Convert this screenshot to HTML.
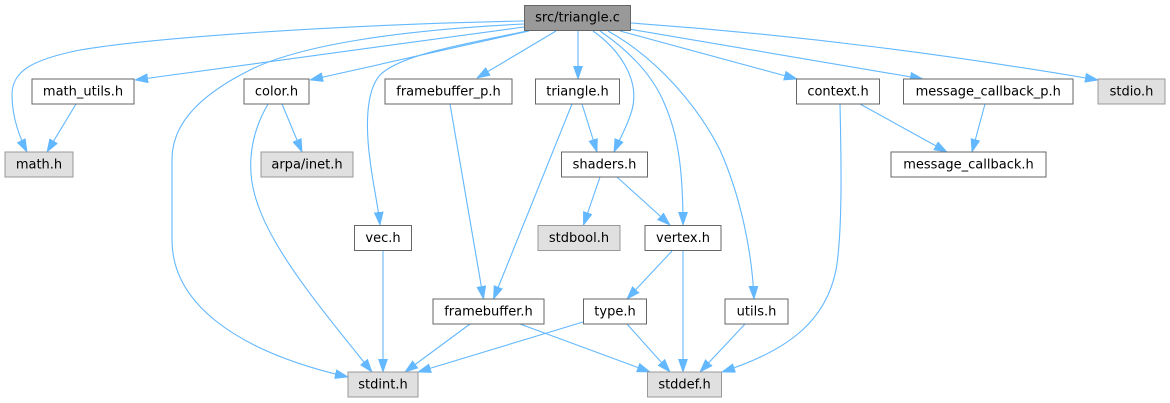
<!DOCTYPE html>
<html><head><meta charset="utf-8"><style>
html,body{margin:0;padding:0;background:#fff;}
svg{display:block;}
text{font-family:"DejaVu Sans","Liberation Sans",sans-serif;font-size:13px;fill:#000;text-anchor:middle;}
.e{fill:none;stroke:#63b8ff;stroke-width:1.1;marker-end:url(#a);}
.w{fill:#fff;stroke:#666;stroke-width:1;}
.g{fill:#e0e0e0;stroke:#999;stroke-width:1;}
.m{fill:#999;stroke:#666;stroke-width:1;}
</style></head><body>
<svg width="1170" height="403" viewBox="0 0 1170 403" xmlns="http://www.w3.org/2000/svg">
<defs>
<marker id="a" markerUnits="userSpaceOnUse" markerWidth="13" markerHeight="10" refX="13" refY="5" orient="auto" viewBox="0 0 13 10">
<path d="M0,0.5 L13,5 L0,9.5 z" fill="#63b8ff" stroke="#63b8ff" stroke-width="0.8"/>
</marker>
</defs>
<!-- edges -->
<path class="e" d="M524,21 C 330,25 150,38 80,50 C 30,60 12,72 12,95 C 12,118 20,138 27,152"/>
<path class="e" d="M524,27 L135,80"/>
<path class="e" d="M524,24 C 400,30 300,45 250,70 C 190,100 172,130 172,160 L172,240 C 172,300 230,350 348,377"/>
<path class="e" d="M529,31 L310,80"/>
<path class="e" d="M527,31 C 460,45 400,55 380,75 C 365,92 366,130 370,160 C 373,185 378,205 380,225"/>
<path class="e" d="M556,31 L477,78"/>
<path class="e" d="M578,31 L578,79"/>
<path class="e" d="M593,31 C 620,50 640,80 632,110 C 628,125 620,138 614,152"/>
<path class="e" d="M600,31 C 635,55 655,80 665,105 C 678,135 683,170 683,225"/>
<path class="e" d="M608,31 C 660,60 700,110 720,150 C 740,195 752,250 754,299"/>
<path class="e" d="M620,31 L797,79"/>
<path class="e" d="M623,28 L923,79"/>
<path class="e" d="M631,23 C 800,35 950,55 1098,80"/>
<path class="e" d="M76,104 L47,152"/>
<path class="e" d="M282,104 L302,152"/>
<path class="e" d="M268,104 C 250,135 245,170 258,205 C 275,255 330,320 372,372"/>
<path class="e" d="M450,104 L483.5,299"/>
<path class="e" d="M582,104 L597,152"/>
<path class="e" d="M572,104 L493.5,299"/>
<path class="e" d="M600,177 L583.5,225"/>
<path class="e" d="M617,177 L670,225"/>
<path class="e" d="M672,251 L627,299"/>
<path class="e" d="M683,251 L683,372"/>
<path class="e" d="M860,104 L947,152"/>
<path class="e" d="M840,104 C 841,150 843,230 836,270 C 826,320 790,350 722,372"/>
<path class="e" d="M985,104 L972,152"/>
<path class="e" d="M470,324 L405,372"/>
<path class="e" d="M520,324 L650,372"/>
<path class="e" d="M583,322 L418,372"/>
<path class="e" d="M627,324 L670,372"/>
<path class="e" d="M745,324 L700,372"/>
<path class="e" d="M383,251 L383,372"/>
<!-- nodes -->
<rect class="m" x="524.5" y="5.5" width="106" height="25"/><text x="577.5" y="21.5">src/triangle.c</text>
<rect class="w" x="32" y="79" width="102" height="25"/><text x="83" y="95.5">math_utils.h</text>
<rect class="w" x="244" y="79" width="65" height="25"/><text x="276.5" y="95.5">color.h</text>
<rect class="w" x="385" y="79" width="127" height="25"/><text x="448.5" y="95.5">framebuffer_p.h</text>
<rect class="w" x="535.5" y="79" width="84" height="25"/><text x="577.5" y="95.5">triangle.h</text>
<rect class="w" x="796.5" y="79" width="83" height="25"/><text x="838" y="95.5">context.h</text>
<rect class="w" x="903.5" y="79" width="169.5" height="25"/><text x="988.25" y="95.5">message_callback_p.h</text>
<rect class="g" x="1098" y="79" width="67" height="25"/><text x="1131.5" y="95.5">stdio.h</text>
<rect class="g" x="5" y="152" width="68" height="25"/><text x="39" y="168.5">math.h</text>
<rect class="g" x="261" y="152" width="92" height="25"/><text x="307" y="168.5">arpa/inet.h</text>
<rect class="w" x="561.5" y="152" width="86" height="25"/><text x="604.5" y="168.5">shaders.h</text>
<rect class="w" x="891" y="152" width="155" height="25"/><text x="968.5" y="168.5">message_callback.h</text>
<rect class="w" x="354.5" y="225.5" width="57" height="25"/><text x="383" y="242">vec.h</text>
<rect class="g" x="538" y="225.5" width="82" height="25"/><text x="579" y="242">stdbool.h</text>
<rect class="w" x="645" y="225.5" width="76" height="25"/><text x="683" y="242">vertex.h</text>
<rect class="w" x="433" y="299" width="111" height="25"/><text x="488.5" y="315.5">framebuffer.h</text>
<rect class="w" x="583.5" y="299" width="63" height="25"/><text x="615" y="315.5">type.h</text>
<rect class="w" x="725" y="299" width="63" height="25"/><text x="756.5" y="315.5">utils.h</text>
<rect class="g" x="348" y="372" width="70" height="25"/><text x="383" y="388.5">stdint.h</text>
<rect class="g" x="647.5" y="372" width="74" height="25"/><text x="684.5" y="388.5">stddef.h</text>
</svg>
</body></html>
